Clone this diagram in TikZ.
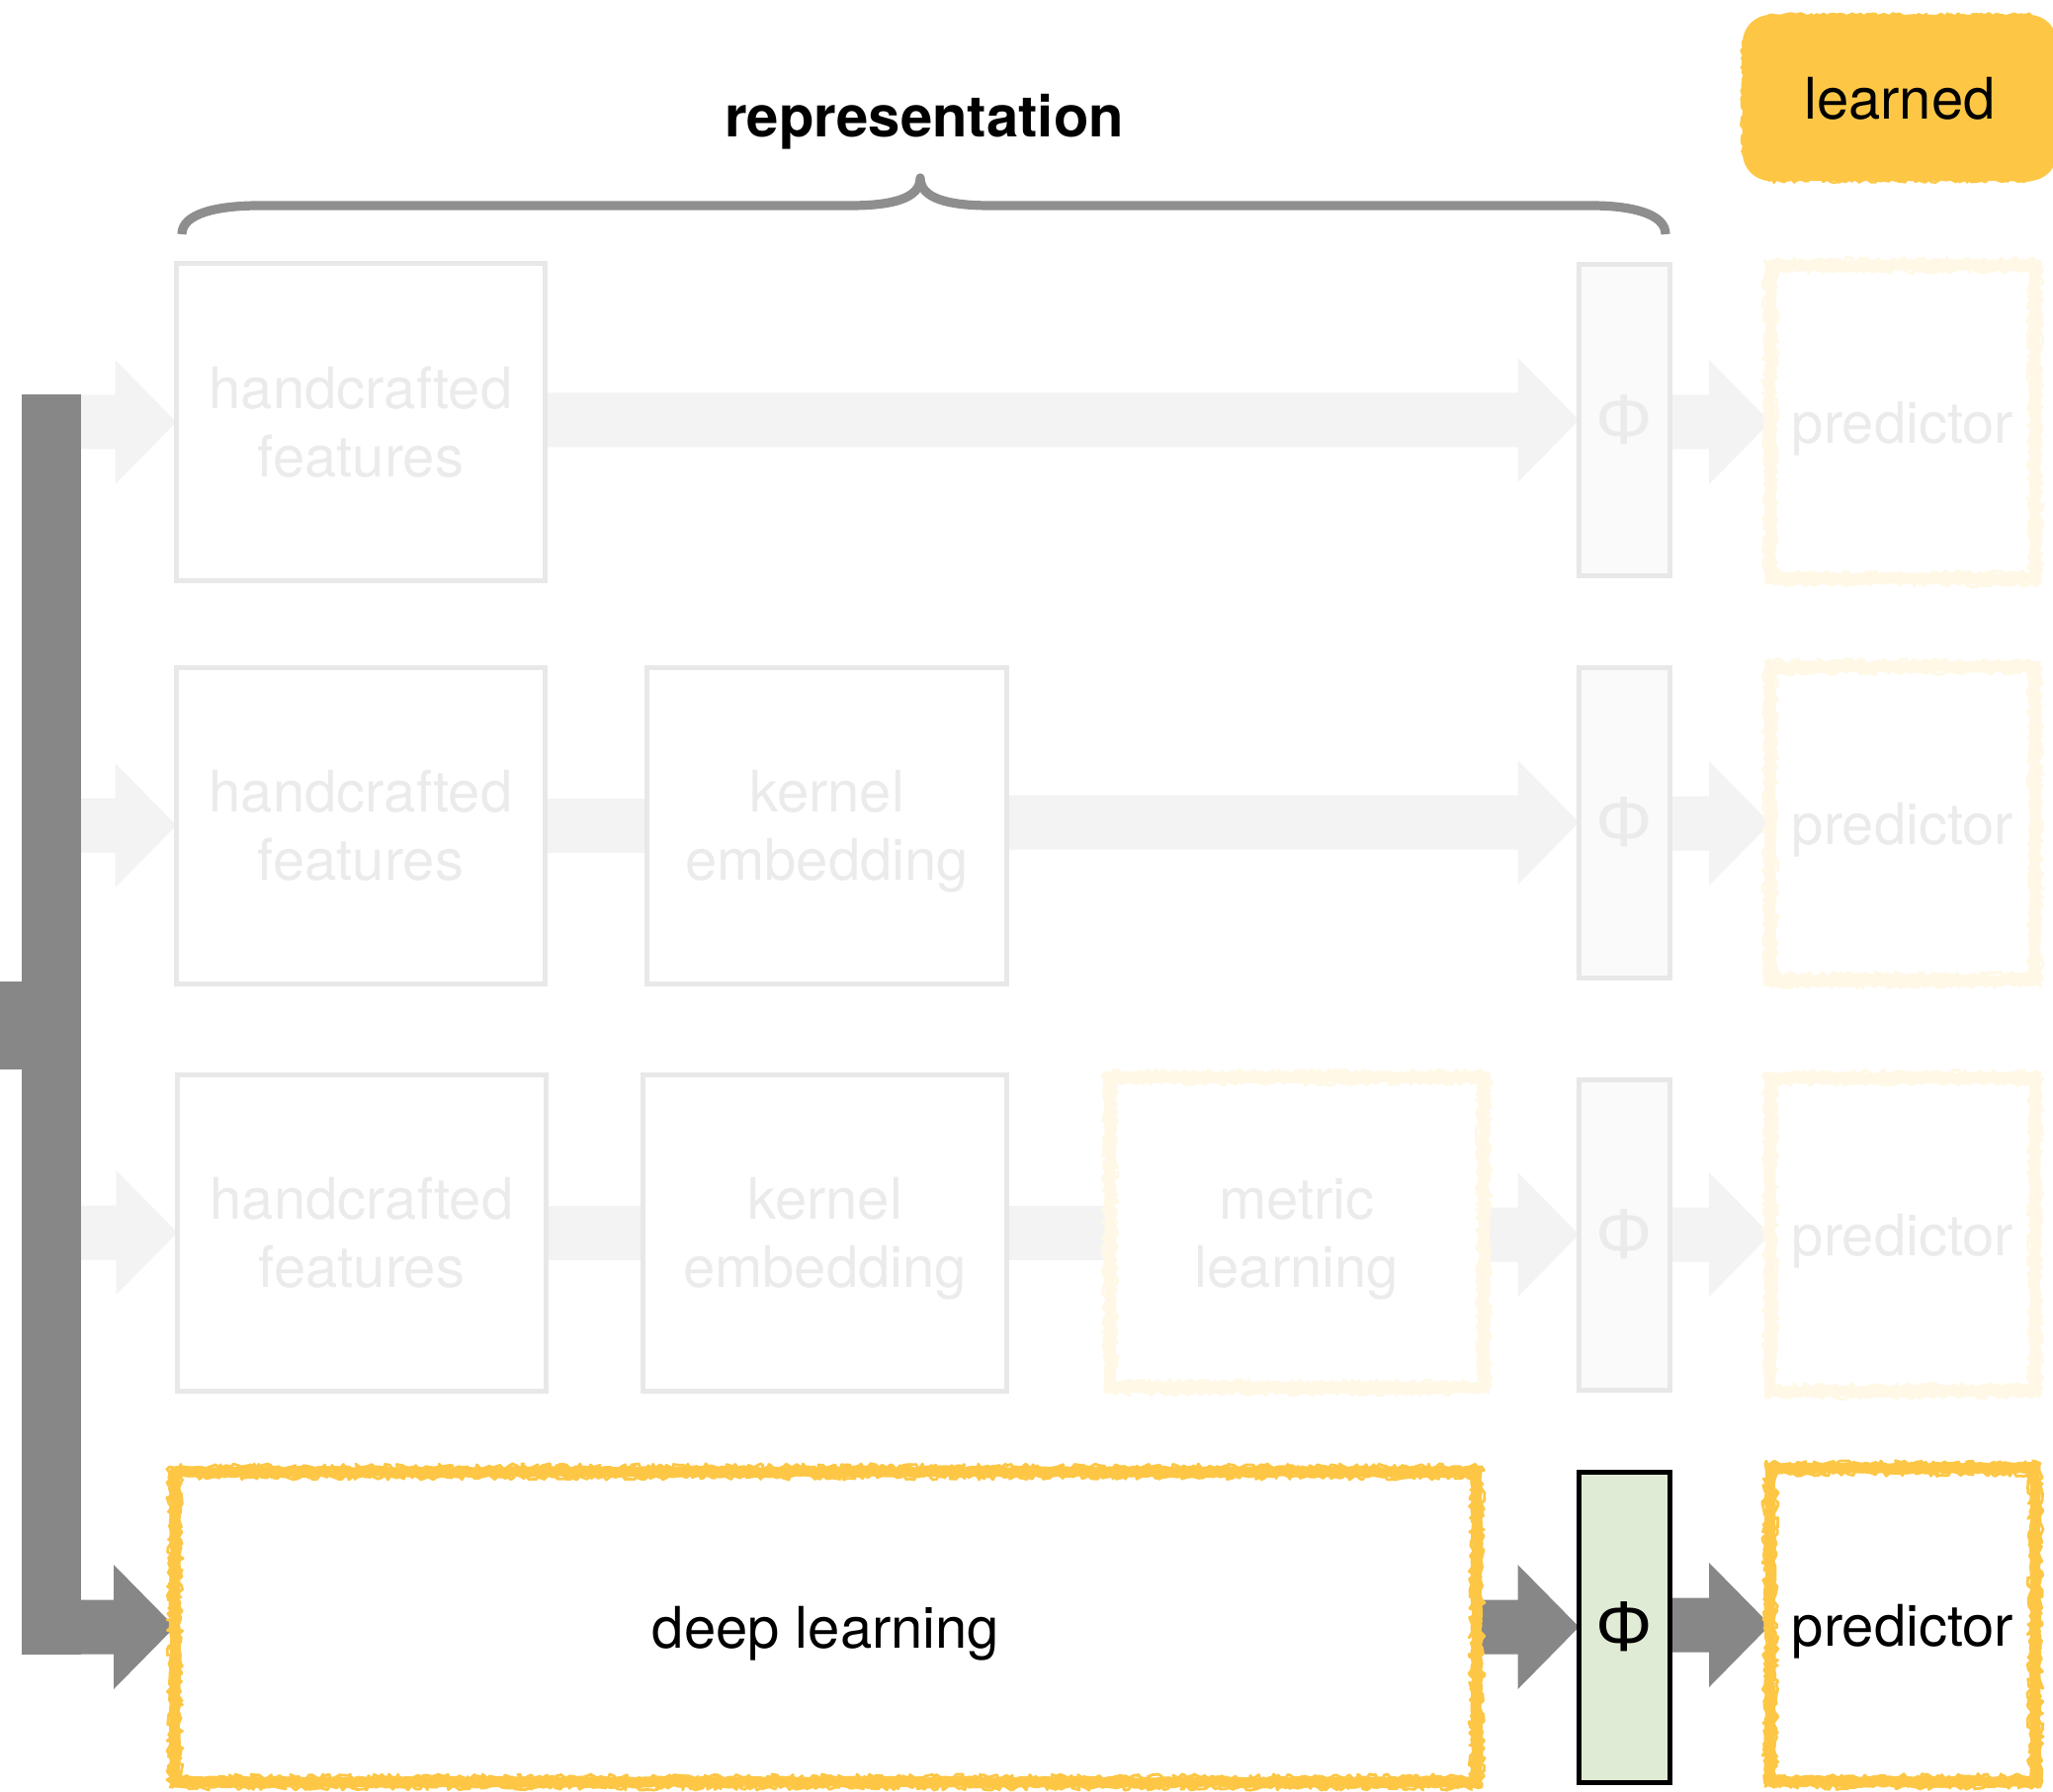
\documentclass[tikz,border=0pt]{standalone}
\usepackage{fontspec}
\setmainfont{TeX Gyre Heros}
\newfontfamily\phifont{Liberation Sans}
\usetikzlibrary{calc,backgrounds,decorations.pathmorphing}

\definecolor{trunkgrey}{HTML}{878787}
\definecolor{paleflow}{HTML}{F3F3F3}
\definecolor{paleline}{HTML}{E8E8E8}
\definecolor{paletext}{HTML}{EBEBEB}
\definecolor{palefill}{HTML}{FAFAFA}
\definecolor{bracegrey}{HTML}{8E8E8E}
\definecolor{learnyellow}{HTML}{FDC745}
\definecolor{fadeyellow}{HTML}{FFF8E6}
\definecolor{phigreen}{HTML}{DFEBD4}

% block arrow from the side of one node to the side of another
\newcommand\fatarrow[3]{%
  \fill[#1] ($(#2 |- #3)+(0,-27.5)$) -- ($(#3)+(-62,-27.5)$) -- ($(#3)+(-62,-63)$)
    -- (#3) -- ($(#3)+(-62,63)$) -- ($(#3)+(-62,27.5)$) -- ($(#2 |- #3)+(0,27.5)$) -- cycle;}
% plain band joining two neighbouring boxes
\newcommand\fatband[3]{%
  \fill[#1] ($(#2 |- #3)+(0,-27.5)$) rectangle ($(#3)+(0,27.5)$);}
% hand-drawn looking outline round a node
\newcommand\roughbox[2]{%
  \draw[roughedge=#2] (#1.north west) rectangle (#1.south east);
  \draw[roughfray=#2] ($(#1.north west)+(-5,-5)$) rectangle ($(#1.south east)+(5,5)$);
  \draw[roughfray=#2] ($(#1.north west)+(5,5)$) rectangle ($(#1.south east)+(-5,-5)$);}

\begin{document}
\begin{tikzpicture}[x=0.5pt,y=-0.5pt,
  font=\fontsize{29}{34.5}\selectfont,
  every node/.style={outer sep=0pt, inner sep=0pt, align=center, text depth=0pt},
  plainbox/.style={draw=paleline, line width=2.5pt, text=paletext,
    minimum width=#1, minimum height=160pt},
  plainbox/.default=186.5pt,
  phibox/.style={line width=2.5pt, minimum width=46pt, minimum height=157pt, font=\phifont\fontsize{36}{40}\selectfont},
  fadedphi/.style={phibox, draw=paleline, fill=palefill, text=paletext},
  activephi/.style={phibox, draw=black, fill=phigreen, text=black},
  predbox/.style={minimum width=134pt, minimum height=158.5pt},
  roughedge/.style={draw=#1, line width=5.5pt, line join=round, decorate,
    decoration={random steps, segment length=2.5pt, amplitude=0.6pt}},
  roughfray/.style={draw=#1, line width=1.4pt, line join=round, decorate,
    decoration={random steps, segment length=1.5pt, amplitude=1.6pt}},
  softfray/.style={draw=#1, line width=1.2pt, line join=round, decorate,
    decoration={random steps, segment length=1.5pt, amplitude=0.9pt}},
]
\pgfmathsetseed{11}
\useasboundingbox (0,0) rectangle (2077,1813);

% input trunk
\node[fill=trunkgrey, minimum width=30pt, minimum height=637pt] (trunk) at (52,1036.5) {};
\node[fill=trunkgrey, minimum width=11pt, minimum height=44.5pt] (src) at (11,1037.5) {};

% row 1: handcrafted features
\node[plainbox] (h1) at (365,427) {handcrafted\\features};
\node[fadedphi] (f1) at (1643.5,425) {Φ};
\node[predbox, text=paletext] (p1) at (1925,427) {predictor};

% row 2: + kernel embedding
\node[plainbox] (h2) at (365,835) {handcrafted\\features};
\node[plainbox=182pt] (k2) at (836.5,835) {kernel\\embedding};
\node[fadedphi] (f2) at (1643.5,832) {Φ};
\node[predbox, text=paletext] (p2) at (1925,833) {predictor};

% row 3: + metric learning
\node[plainbox] (h3) at (366,1247) {handcrafted\\features};
\node[plainbox=184pt] (k3) at (834.5,1247) {kernel\\embedding};
\node[minimum width=189pt, minimum height=157pt, text=paletext] (m3) at (1312,1247) {metric\\learning};
\node[fadedphi] (f3) at (1643.5,1249) {Φ};
\node[predbox, text=paletext] (p3) at (1925,1249) {predictor};

% row 4: deep learning
\node[minimum width=658.5pt, minimum height=157pt] (deep) at (835.5,1646) {deep learning};
\node[activephi] (f4) at (1643.5,1646) {Φ};
\node[predbox] (p4) at (1925,1644) {predictor};

% heading and legend
\node[font=\bfseries\fontsize{29}{34.5}\selectfont] (title) at (935,117) {representation};
\node[fill=learnyellow, rounded corners=14pt, minimum width=159pt, minimum height=84pt] (legend) at (1922,99) {learned};
\draw[softfray=learnyellow] ($(legend.north west)+(26,0)$) -- ($(legend.north east)+(-26,0)$);
\draw[softfray=learnyellow] ($(legend.south west)+(26,0)$) -- ($(legend.south east)+(-26,0)$);
\draw[softfray=learnyellow] ($(legend.north west)+(0,26)$) -- ($(legend.south west)+(0,-26)$);

% connectors
\begin{scope}[on background layer]
  \fatarrow{paleflow}{trunk.east}{h1.west}
  \fatarrow{paleflow}{h1.east}{f1.west}
  \fatarrow{paleflow}{f1.east}{p1.west}

  \fatarrow{paleflow}{trunk.east}{h2.west}
  \fatband{paleflow}{h2.east}{k2.west}
  \fatarrow{paleflow}{k2.east}{f2.west}
  \fatarrow{paleflow}{f2.east}{p2.west}

  \fatarrow{paleflow}{trunk.east}{h3.west}
  \fatband{paleflow}{h3.east}{k3.west}
  \fatband{paleflow}{k3.east}{m3.west}
  \fatarrow{paleflow}{m3.east}{f3.west}
  \fatarrow{paleflow}{f3.east}{p3.west}

  \fatarrow{trunkgrey}{trunk.east}{deep.west}
  \fatarrow{trunkgrey}{deep.east}{f4.west}
  \fatarrow{trunkgrey}{f4.east}{p4.west}
\end{scope}

% learned stages
\roughbox{p1}{fadeyellow}
\roughbox{p2}{fadeyellow}
\roughbox{p3}{fadeyellow}
\roughbox{m3}{fadeyellow}
\roughbox{deep}{learnyellow}
\roughbox{p4}{learnyellow}

% brace over the representation part
\draw[bracegrey, line width=4.6pt, line join=round]
  (184,237) .. controls (184,216) and (220,208) .. (262,208) -- (860,208)
  .. controls (905,208) and (931,200) .. (931,180)
  .. controls (931,200) and (957,208) .. (1002,208) -- (1610,208)
  .. controls (1650,208) and (1685,216) .. (1685,237);
\end{tikzpicture}
\end{document}
